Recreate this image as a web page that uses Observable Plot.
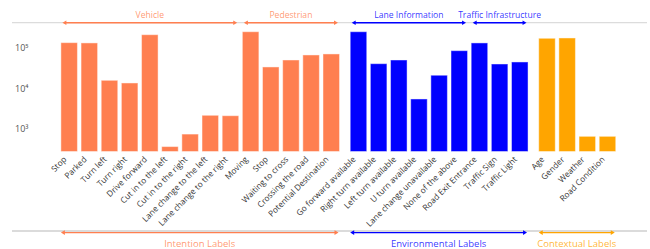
<!DOCTYPE html>
<html><head><meta charset="utf-8">
<script src="https://cdn.jsdelivr.net/npm/d3@7"></script>
<script src="https://cdn.jsdelivr.net/npm/@observablehq/plot@0.6"></script>
<style>body{margin:0;background:#fff;font-family:"Open Sans",sans-serif}</style>
</head><body><div id="chart"></div>
<script>
const vehicleLabels = ["Stop","Parked","Turn left","Turn right","Drive forward","Cut in to the left","Cut in to the right","Lane change to the left","Lane change to the right"];
const vehicleValues = [132000,130000,15700,13500,207000,370,750,2170,2120];
const pedestrianLabels = ["Moving","Stop","Waiting to cross","Crossing the road","Potential Destination"];
const pedestrianValues = [245000,33400,49500,65800,69700];
const laneLabels = ["Go forward available","Right turn available","Left turn available","U turn available","Lane change unavailable","None of the above"];
const laneValues = [245000,40200,49500,5460,20900,83900];
const infraLabels = ["Road Exit Entrance","Traffic Sign","Traffic Light"];
const infraValues = [130000,39500,44300];
const contextLabels = ["Age","Gender","Weather","Road Condition"];
const contextValues = [169000,172000,660,660];
const yTicks = [1e3,1e4,1e5];

const colors = {intention:"#FF7F50", environmental:"#0000FF", contextual:"#FFA500"};
const subgroups = [
  {name:"Vehicle", group:"intention", labels:vehicleLabels, values:vehicleValues},
  {name:"Pedestrian", group:"intention", labels:pedestrianLabels, values:pedestrianValues},
  {name:"Lane Information", group:"environmental", labels:laneLabels, values:laneValues},
  {name:"Traffic Infrastructure", group:"environmental", labels:infraLabels, values:infraValues},
  {name:null, group:"contextual", labels:contextLabels, values:contextValues}
];
const groupNames = {intention:"Intention Labels", environmental:"Environmental Labels", contextual:"Contextual Labels"};
const groupOrder = ["intention","environmental","contextual"];
const GAP = 0.35, HALF = 0.41;

const data = [];
let idx = 0;
subgroups.forEach((sg, s) => {
  sg.labels.forEach((lab, i) => {
    const g = groupOrder.indexOf(sg.group);
    data.push({label: lab, value: sg.values[i], group: sg.group, sub: s, pos: idx + g * GAP});
    idx++;
  });
});
const sup = {"3":"³","4":"⁴","5":"⁵"};

const plot = Plot.plot({
  width: 650, height: 249,
  marginLeft: 49, marginRight: 26, marginTop: 30, marginBottom: 97.5,
  style: {fontFamily: "'Open Sans', sans-serif", background: "#fff"},
  x: {type: "linear", domain: [-1, 27.5], range: [49, 623.6], axis: null},
  y: {type: "log", domain: [280, 270000], range: [151.5, 30], axis: null},
  color: {domain: groupOrder, range: groupOrder.map(g => colors[g])},
  marks: [
    Plot.rectY(data, {x1: d => d.pos - HALF, x2: d => d.pos + HALF, y1: 280, y2: "value", fill: "group", stroke: "white", strokeOpacity: 0.45, strokeWidth: 1}),
    Plot.axisY({ticks: yTicks, tickFormat: d => "10" + sup[String(Math.round(Math.log10(d)))], tickSize: 0, tickPadding: 21, fontSize: 9, color: "#555", label: null}),
    Plot.text(data, {x: "pos", text: "label", frameAnchor: "bottom", rotate: -45, textAnchor: "end", dx: -2.6, dy: 8, fontSize: 8.3, fill: "#333"})
  ]
});
document.getElementById("chart").appendChild(plot);

// group annotations placed with Plot's x scale
const xs = plot.scale("x");
const X = v => xs.apply(v);
const svg = d3.select(plot);
const ann = svg.append("g").attr("font-family", "'Open Sans', sans-serif");

function arrow(x1, x2, y, color) {
  const h = 4, w = 2.3;
  ann.append("line").attr("x1", x1 + 2).attr("x2", x2 - 2).attr("y1", y).attr("y2", y).attr("stroke", color).attr("stroke-width", 1.4);
  ann.append("path").attr("d", `M${x1},${y}L${x1 + h},${y - w}L${x1 + h},${y + w}Z`).attr("fill", color);
  ann.append("path").attr("d", `M${x2},${y}L${x2 - h},${y - w}L${x2 - h},${y + w}Z`).attr("fill", color);
}

ann.append("line").attr("x1", 12).attr("x2", 647).attr("y1", 22.7).attr("y2", 22.7).attr("stroke", "#dcdcdc").attr("stroke-width", 1.3);
ann.append("line").attr("x1", 12).attr("x2", 647).attr("y1", 231).attr("y2", 231).attr("stroke", "#cfcfcf").attr("stroke-width", 1.6);

subgroups.forEach((sg, s) => {
  if (!sg.name) return;
  const items = data.filter(d => d.sub === s);
  const x1 = X(items[0].pos - HALF) + 1.5, x2 = X(items[items.length - 1].pos + HALF) - 1.5;
  const c = colors[sg.group];
  arrow(x1, x2, 22.7, c);
  ann.append("text").attr("x", (x1 + x2) / 2).attr("y", 17.6).attr("text-anchor", "middle")
    .attr("fill", c).attr("fill-opacity", 0.8).attr("font-size", 8.6).text(sg.name);
});
groupOrder.forEach(g => {
  const items = data.filter(d => d.group === g);
  const x1 = X(items[0].pos - HALF), x2 = X(items[items.length - 1].pos + HALF) - 1;
  const c = colors[g];
  arrow(x1, x2, 232.6, c);
  ann.append("text").attr("x", (x1 + x2) / 2).attr("y", 247).attr("text-anchor", "middle")
    .attr("fill", c).attr("fill-opacity", 0.8).attr("font-size", 9.5).text(groupNames[g]);
});
</script></body></html>
